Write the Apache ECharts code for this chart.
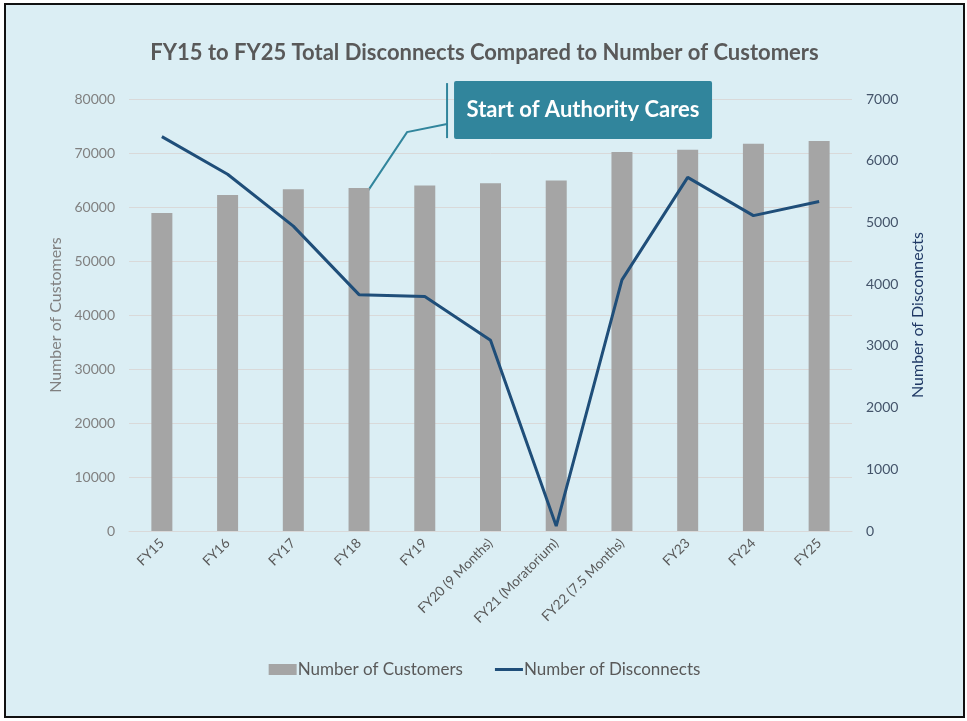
<!DOCTYPE html>
<html>
<head>
<meta charset="utf-8">
<title>FY15 to FY25 Total Disconnects</title>
<script src="https://cdn.jsdelivr.net/npm/echarts@6/dist/echarts.min.js"></script>
<style>
    html, body { margin: 0; padding: 0; background: #ffffff; }
    #box {
        position: absolute; left: 4px; top: 3px;
        width: 957px; height: 711px;
        border: 2px solid #111111;
        background: #dbeef4;
    }
    #chart { width: 957px; height: 711px; }
</style>
</head>
<body>
<div id="box"><div id="chart"></div></div>
<script>
// 数据
var categories = ['FY15', 'FY16', 'FY17', 'FY18', 'FY19', 'FY20 (9 Months)', 'FY21 (Moratorium)',
    'FY22 (7.5 Months)', 'FY23', 'FY24', 'FY25'];
var customers = [58900, 62200, 63300, 63500, 64000, 64400, 64900, 70200, 70600, 71700, 72200];
var disconnects = [6390, 5780, 4940, 3830, 3800, 3090, 80, 4070, 5730, 5110, 5340];
var leftTicks = [0, 80000, 10000];   // min, max, interval
var rightTicks = [0, 7000, 1000];
var noteText = 'Start of Authority Cares';
var noteAt = 'FY18';

var myChart = echarts.init(document.getElementById('chart'));

function plain(v) {
    return String(v);
}

var option = {
    textStyle: { fontFamily: 'Lato' },
    title: {
        text: 'FY15 to FY25 Total Disconnects Compared to Number of Customers',
        left: 'center',
        top: 32,
        textStyle: { color: '#595959', fontSize: 22, fontWeight: 'bold', fontFamily: 'Lato' }
    },
    legend: {
        top: 651,
        left: 'center',
        itemGap: 32,
        itemWidth: 28,
        itemHeight: 11,
        textStyle: { color: '#595959', fontSize: 17, padding: [0, 0, 0, -4] },
        data: [
            { name: 'Number of Customers', icon: 'rect' },
            { name: 'Number of Disconnects', icon: 'path://M0,0 L0.01,0 M0,4 H28 V7 H0 Z M0,11 L0.01,11' }
        ]
    },
    grid: { left: 123, right: 111, top: 94, bottom: 185 },
    xAxis: {
        type: 'category',
        data: categories,
        axisLine: { lineStyle: { color: '#d9d9d9' } },
        axisTick: { show: false },
        axisLabel: { rotate: 45, color: '#595959', fontSize: 13.5, interval: 0, margin: 10 }
    },
    yAxis: [
        {
            type: 'value',
            min: leftTicks[0], max: leftTicks[1], interval: leftTicks[2],
            name: 'Number of Customers',
            nameLocation: 'middle',
            nameGap: 51,
            nameTextStyle: { color: '#808080', fontSize: 16 },
            axisLabel: { color: '#808080', fontSize: 14, margin: 14, formatter: plain },
            splitLine: { lineStyle: { color: '#d9d9d9' } }
        },
        {
            type: 'value',
            min: rightTicks[0], max: rightTicks[1], interval: rightTicks[2],
            name: 'Number of Disconnects',
            nameLocation: 'middle',
            nameGap: 54,
            nameTextStyle: { color: '#1f3864', fontSize: 16 },
            axisLabel: { color: '#44546a', fontSize: 14, margin: 14, formatter: plain },
            splitLine: { show: false }
        }
    ],
    series: [
        {
            name: 'Number of Customers',
            type: 'bar',
            data: customers,
            barWidth: 21,
            itemStyle: { color: '#a5a5a5' }
        },
        {
            name: 'Number of Disconnects',
            type: 'line',
            yAxisIndex: 1,
            data: disconnects,
            symbol: 'none',
            lineStyle: { color: '#1f4e79', width: 3 },
            itemStyle: { color: '#1f4e79' }
        }
    ]
};

myChart.setOption(option);

// 注释框，位置跟随 FY18 的柱顶
var idx = categories.indexOf(noteAt);
var p = myChart.convertToPixel({ seriesIndex: 0 }, [idx, customers[idx]]);
var x0 = p[0], y0 = p[1];
myChart.setOption({
    graphic: [
        {
            type: 'polyline',
            shape: { points: [[x0 + 4, y0 + 10], [x0 + 48, y0 - 56], [x0 + 88, y0 - 64]] },
            style: { stroke: '#31859c', lineWidth: 2, fill: null }
        },
        {
            type: 'line',
            shape: { x1: x0 + 88, y1: y0 - 105, x2: x0 + 88, y2: y0 - 50 },
            style: { stroke: '#31859c', lineWidth: 2 }
        },
        {
            type: 'rect',
            shape: { x: x0 + 95, y: y0 - 107, width: 258, height: 58, r: 2 },
            style: { fill: '#31859c' }
        },
        {
            type: 'text',
            x: x0 + 95 + 129,
            y: y0 - 78,
            style: {
                text: noteText,
                fill: '#ffffff',
                font: 'bold 22px Lato',
                align: 'center',
                verticalAlign: 'middle'
            }
        }
    ]
});
</script>
</body>
</html>
